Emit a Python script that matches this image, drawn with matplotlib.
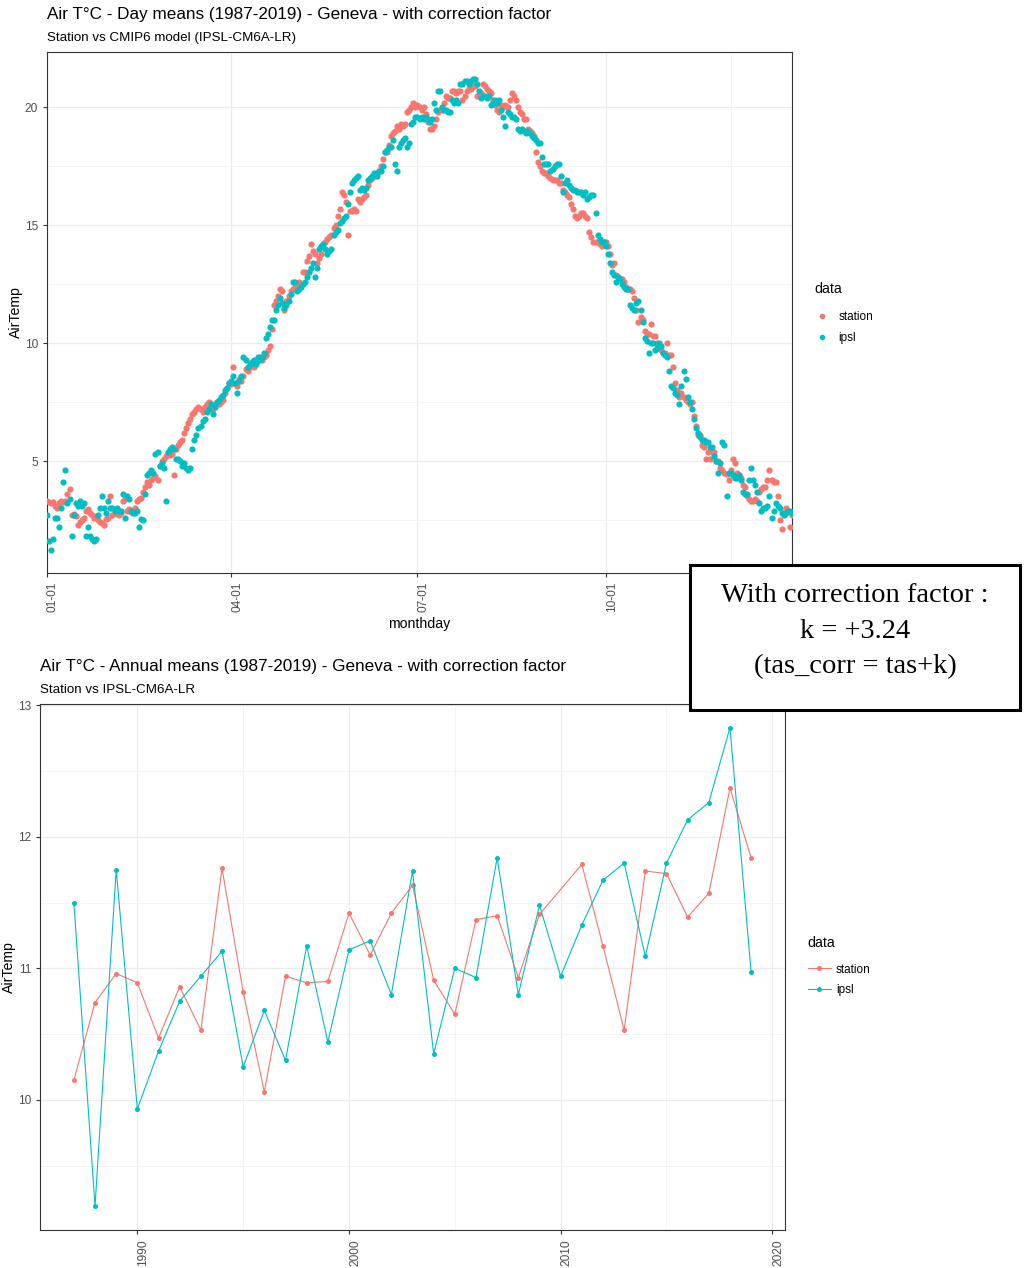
import pandas as pd
import matplotlib.pyplot as plt
import matplotlib.dates as mdates
import matplotlib.transforms as mtransforms
from matplotlib.patches import Rectangle
from matplotlib.lines import Line2D

plt.rcParams['font.family'] = ['Liberation Sans', 'DejaVu Sans']

# daily means (one value per day of year)
station_day = [
    3.3, 3.25, 3.2, 3.25, 3.1, 3.0, 3.2, 3.3, 3.25, 3.3,
    3.6, 3.8, 2.7, 2.75, 2.65, 2.3, 2.4, 2.5, 2.6, 2.9,
    2.95, 2.8, 2.7, 2.6, 2.65, 2.5, 2.4, 2.35, 2.3, 2.55,
    2.6, 3.5, 2.7, 2.8, 2.75, 2.7, 2.8, 3.3, 3.4, 2.9,
    2.95, 2.85, 2.9, 3.0, 3.3, 3.4, 3.45, 3.7, 3.9, 4.1,
    4.0, 4.2, 4.3, 4.35, 4.2, 4.8, 5.0, 5.1, 5.2, 5.3,
    5.25, 5.3, 4.4, 5.5, 5.7, 5.8, 5.9, 6.2, 6.4, 6.6,
    6.8, 7.0, 7.1, 7.2, 7.3, 7.2, 7.1, 7.3, 7.4, 7.5,
    7.3, 7.2, 7.4, 7.5, 7.4, 7.5, 7.6, 7.9, 8.1, 8.3,
    8.25, 9.0, 8.3, 8.2, 8.5, 8.4, 8.6, 8.9, 8.8, 9.0,
    9.1, 9.0, 9.2, 9.3, 9.4, 9.3, 9.4, 9.5, 9.7, 9.9,
    10.6, 11.6, 11.8, 12.0, 12.3, 12.2, 11.4, 11.8, 12.0, 12.2,
    12.3, 12.4, 12.5, 12.6, 12.5, 13.0, 13.0, 13.5, 13.7, 14.2,
    13.9, 13.8, 13.4, 13.6, 13.8, 14.2, 14.3, 14.4, 14.5, 14.6,
    14.9, 15.0, 15.4, 15.7, 16.4, 16.3, 16.0, 14.6, 15.6, 15.6,
    15.7, 15.6, 16.1, 16.0, 16.1, 16.2, 16.3, 16.7, 16.9, 17.0,
    17.1, 17.2, 17.3, 17.5, 17.8, 18.1, 18.1, 18.4, 18.8, 18.9,
    19.0, 19.2, 19.1, 19.3, 19.2, 19.3, 19.8, 19.9, 20.0, 20.2,
    20.0, 20.1, 20.0, 19.9, 20.0, 19.7, 19.4, 19.1, 19.1, 19.2,
    19.5, 19.8, 19.9, 19.9, 20.2, 20.5, 20.4, 20.4, 20.7, 20.7,
    20.6, 20.7, 20.7, 20.3, 20.5, 20.7, 20.8, 20.8, 20.9, 20.9,
    20.5, 20.5, 20.6, 21.0, 20.9, 20.8, 20.7, 20.6, 20.3, 20.1,
    19.9, 19.8, 20.1, 20.0, 20.1, 20.0, 20.3, 20.6, 20.5, 20.3,
    20.0, 19.8, 19.7, 19.5, 19.5, 19.1, 19.0, 18.9, 18.8, 18.1,
    17.7, 17.5, 17.3, 17.2, 17.2, 17.1, 17.0, 16.9, 16.9, 16.9,
    16.8, 16.8, 16.5, 16.4, 16.3, 16.2, 15.9, 15.7, 15.4, 15.3,
    15.4, 15.5, 15.5, 15.4, 15.3, 14.7, 14.5, 14.3, 14.3, 14.3,
    14.2, 14.1, 14.3, 14.3, 14.1, 13.8, 13.3, 13.4, 12.9, 12.8,
    12.7, 12.7, 12.6, 12.4, 12.3, 12.3, 12.2, 11.9, 11.4, 10.9,
    11.1, 11.0, 10.5, 10.4, 10.4, 10.8, 10.3, 10.3, 10.0, 9.8,
    9.7, 9.6, 9.6, 10.0, 9.5, 9.5, 9.0, 8.3, 8.0, 7.7,
    7.9, 7.7, 7.6, 7.5, 7.4, 7.5, 6.9, 6.5, 6.1, 6.1,
    5.7, 5.6, 5.1, 5.4, 5.1, 5.4, 5.4, 5.0, 5.0, 4.7,
    4.6, 4.5, 4.45, 4.2, 4.6, 5.1, 4.9, 4.5, 4.4, 4.3,
    4.0, 3.9, 3.5, 3.4, 3.3, 3.3, 3.4, 3.3, 3.7, 3.8,
    3.9, 3.9, 4.2, 4.6, 4.2, 4.1, 4.1, 3.5, 2.5, 2.1,
    2.8, 3.0, 2.9, 2.2, 2.7,
]
ipsl_day = [
    2.7, 1.6, 1.22, 1.7, 2.6, 2.6, 2.2, 3.0, 4.1, 4.6,
    3.2, 3.4, 1.8, 2.7, 3.2, 3.1, 3.3, 3.1, 3.2, 1.8,
    2.2, 1.8, 1.7, 1.6, 1.7, 2.7, 3.0, 3.5, 3.0, 2.8,
    3.3, 3.0, 3.0, 2.9, 3.0, 2.9, 2.9, 3.6, 2.6, 3.5,
    3.4, 2.9, 2.8, 2.8, 2.9, 2.2, 2.55, 2.5, 3.6, 4.4,
    4.5, 4.6, 4.5, 5.3, 5.4, 4.8, 4.9, 4.7, 3.3, 5.4,
    5.5, 5.6, 5.5, 5.1, 5.1, 5.0, 4.8, 4.9, 4.7, 4.6,
    4.7, 5.5, 5.9, 6.1, 6.4, 6.5, 6.7, 6.8, 7.1, 7.2,
    7.4, 7.0, 7.3, 7.5, 7.6, 7.7, 7.8, 8.0, 8.1, 8.3,
    8.4, 8.6, 8.3, 7.9, 8.4, 8.6, 9.4, 9.3, 9.0, 9.1,
    9.2, 9.3, 9.1, 9.4, 9.3, 9.4, 9.6, 10.2, 10.4, 10.7,
    11.0, 11.0, 11.4, 11.6, 11.9, 11.7, 11.5, 11.6, 11.8, 12.1,
    12.6, 12.6, 12.2, 12.3, 12.4, 12.5, 12.6, 12.8, 13.0, 13.2,
    13.4, 12.8, 13.2, 14.0, 14.1, 14.2, 14.0, 13.8, 13.9, 14.0,
    14.6, 14.7, 14.8, 15.1, 15.2, 15.3, 15.4, 15.9, 16.4, 16.8,
    16.9, 17.0, 17.1, 16.5, 16.6, 16.5, 16.6, 16.9, 17.0, 17.1,
    17.2, 17.1, 17.3, 17.3, 17.5, 18.1, 18.2, 18.3, 18.3, 18.6,
    17.6, 17.3, 18.3, 18.5, 18.6, 18.7, 18.3, 18.5, 19.3, 19.4,
    19.6, 19.6, 19.5, 19.6, 19.5, 19.6, 19.5, 19.4, 19.5, 20.2,
    19.9, 20.7, 20.7, 20.0, 19.9, 19.9, 19.8, 19.8, 20.3, 20.2,
    20.3, 20.2, 21.0, 21.0, 21.1, 21.1, 21.0, 21.1, 21.2, 21.2,
    21.0, 20.7, 20.4, 20.5, 20.5, 20.4, 20.5, 20.1, 20.2, 20.3,
    20.2, 20.3, 19.9, 19.6, 19.2, 19.8, 19.7, 19.6, 19.6, 19.5,
    19.1, 19.0, 19.1, 19.0, 18.9, 19.0, 18.9, 18.8, 18.7, 18.6,
    18.5, 18.5, 17.9, 17.6, 17.6, 17.6, 17.3, 17.4, 17.5, 17.6,
    17.6, 17.1, 16.4, 16.8, 16.9, 16.7, 16.6, 16.5, 16.5, 16.4,
    16.4, 16.4, 16.3, 16.4, 16.1, 16.2, 16.3, 16.3, 15.5, 14.6,
    14.4, 14.3, 14.3, 14.1, 13.8, 13.4, 13.0, 12.9, 12.6, 12.8,
    12.7, 12.5, 12.4, 12.3, 12.3, 11.6, 11.5, 11.4, 11.7, 11.8,
    11.4, 10.9, 10.2, 10.1, 9.6, 10.0, 10.0, 9.7, 9.8, 10.0,
    9.9, 9.6, 9.5, 9.4, 8.8, 8.2, 8.1, 7.9, 7.8, 7.4,
    8.2, 8.8, 8.5, 7.7, 7.5, 7.2, 6.8, 6.4, 6.2, 6.0,
    5.9, 5.9, 5.8, 5.8, 5.6, 5.6, 5.2, 5.0, 4.5, 4.9,
    5.8, 5.7, 3.5, 4.5, 4.5, 4.4, 4.3, 4.3, 4.4, 4.2,
    3.7, 3.6, 3.6, 4.2, 4.7, 4.2, 4.0, 3.7, 3.2, 2.9,
    3.0, 3.0, 3.1, 3.5, 2.6, 2.9, 3.2, 3.1, 3.0, 2.8,
    2.7, 2.8, 2.9, 2.9, 2.8,
]

# annual means (station has no value for 2010)
ipsl_years = list(range(1987, 2020))
ipsl_annual = [11.50, 9.19, 11.75, 9.93, 10.37, 10.75, 10.94, 11.13, 10.25, 10.68,
               10.30, 11.17, 10.44, 11.14, 11.21, 10.80, 11.74, 10.35, 11.00, 10.93,
               11.84, 10.80, 11.48, 10.94, 11.33, 11.67, 11.80, 11.09, 11.80, 12.13,
               12.26, 12.83, 10.97]
station_years = [y for y in range(1987, 2020) if y != 2010]
station_annual = [10.15, 10.74, 10.96, 10.89, 10.47, 10.86, 10.53, 11.76, 10.82, 10.06,
                  10.94, 10.89, 10.90, 11.42, 11.10, 11.42, 11.63, 10.91, 10.65, 11.37,
                  11.40, 10.93, 11.41, 11.79, 11.17, 10.53, 11.74, 11.72, 11.39, 11.57,
                  12.37, 11.84]

series_names = ['station', 'ipsl']
RED = '#F8766D'
CYAN = '#00BFC4'
GRID = '#EBEBEB'
TICKC = '#4D4D4D'
BORDER = '#333333'

days = pd.date_range('2001-01-01', periods=len(station_day), freq='D')


def style_axes(ax):
    ax.set_facecolor('white')
    for s in ax.spines.values():
        s.set_color(BORDER)
        s.set_linewidth(0.8)
    ax.grid(which='major', color=GRID, linewidth=0.9)
    ax.grid(which='minor', color='#F2F2F2', linewidth=0.6)
    ax.set_axisbelow(True)
    ax.tick_params(which='major', length=3, width=0.8, color=BORDER, labelcolor=TICKC, labelsize=8.6)
    ax.tick_params(which='minor', length=0)


def shift_xlabels(ax, fig, dx_px):
    # ggplot puts the rotated labels a little right of the tick
    off = mtransforms.ScaledTranslation(dx_px / 100, 0, fig.dpi_scale_trans)
    for lab in ax.get_xticklabels():
        lab.set_rotation(90)
        lab.set_transform(lab.get_transform() + off)


fig = plt.figure(figsize=(10.24, 12.68), dpi=100)

# ---- top: daily means ----
ax1 = fig.add_axes([47 / 1024, 1 - 573 / 1268, 745 / 1024, 521 / 1268])
style_axes(ax1)
ax1.scatter(days, station_day, s=20, color=RED, linewidths=0, zorder=3, label=series_names[0])
ax1.scatter(days, ipsl_day, s=20, color=CYAN, linewidths=0, zorder=3, label=series_names[1])
ax1.set_xlim(days[0], days[-1])
ax1.set_ylim(0.25, 22.35)
ax1.set_yticks([5, 10, 15, 20])
ax1.set_yticks([2.5, 7.5, 12.5, 17.5], minor=True)
ax1.set_xticks(pd.to_datetime(['2001-01-01', '2001-04-01', '2001-07-01', '2001-10-01']))
ax1.set_xticks(pd.to_datetime(['2001-12-01']), minor=True)
ax1.xaxis.set_major_formatter(mdates.DateFormatter('%m-%d'))
shift_xlabels(ax1, fig, 6)
ax1.set_xlabel('monthday', fontsize=10.2, labelpad=3)
ax1.set_ylabel('AirTemp', fontsize=10.2, labelpad=1)
fig.text(47 / 1024, 1 - 15 / 1268, 'Air T°C - Day means (1987-2019) - Geneva - with correction factor',
         fontsize=12.3, va='center', ha='left')
fig.text(47 / 1024, 1 - 38 / 1268, 'Station vs CMIP6 model (IPSL-CM6A-LR)',
         fontsize=9.6, va='center', ha='left')
h1 = [Line2D([], [], ls='none', marker='o', ms=4, color=c, mec='none') for c in (RED, CYAN)]
leg1 = ax1.legend(h1, series_names, title='data', loc='upper left', frameon=False,
                  bbox_to_anchor=(804 / 1024, 1 - 271 / 1268), bbox_transform=fig.transFigure,
                  fontsize=8.5, title_fontsize=10.2, handlelength=1.2, handletextpad=0.8,
                  labelspacing=0.75, alignment='left')
leg1._legend_box.sep = 11

# ---- bottom: annual means ----
ax2 = fig.add_axes([40 / 1024, 1 - 1230 / 1268, 745 / 1024, 526 / 1268])
style_axes(ax2)
ax2.plot(station_years, station_annual, color=RED, lw=0.8, marker='o', ms=3.6, mec='none',
         label=series_names[0], zorder=3)
ax2.plot(ipsl_years, ipsl_annual, color=CYAN, lw=0.8, marker='o', ms=3.6, mec='none',
         label=series_names[1], zorder=3)
ax2.set_xlim(1985.4, 2020.6)
ax2.set_ylim(9.01, 13.01)
ax2.set_xticks([1990, 2000, 2010, 2020])
ax2.set_xticks([1995, 2005, 2015], minor=True)
ax2.set_yticks([10, 11, 12, 13])
ax2.set_yticks([9.5, 10.5, 11.5, 12.5], minor=True)
shift_xlabels(ax2, fig, 6)
ax2.set_ylabel('AirTemp', fontsize=10.2, labelpad=1)
fig.text(40 / 1024, 1 - 667 / 1268, 'Air T°C - Annual means (1987-2019) - Geneva - with correction factor',
         fontsize=12.3, va='center', ha='left')
fig.text(40 / 1024, 1 - 690 / 1268, 'Station vs IPSL-CM6A-LR',
         fontsize=9.6, va='center', ha='left')
leg2 = ax2.legend(title='data', loc='upper left', frameon=False,
                  bbox_to_anchor=(797 / 1024, 1 - 925 / 1268), bbox_transform=fig.transFigure,
                  fontsize=8.5, title_fontsize=10.2, handlelength=2.0, handletextpad=0.4,
                  labelspacing=0.75, alignment='left')
leg2._legend_box.sep = 10

# ---- annotation box ----
box = Rectangle((690 / 1024, 1 - 710 / 1268), 330 / 1024, 145 / 1268, transform=fig.transFigure,
                facecolor='white', edgecolor='black', linewidth=2.2, zorder=10)
fig.add_artist(box)
for txt, yy in [('With correction factor :', 595), ('k = +3.24', 631), ('(tas_corr = tas+k)', 667)]:
    fig.text(855 / 1024, 1 - yy / 1268, txt, fontsize=20.5, ha='center', va='center',
             family=['Liberation Serif', 'DejaVu Serif'], zorder=11)

fig.savefig('out.png', dpi=100)
